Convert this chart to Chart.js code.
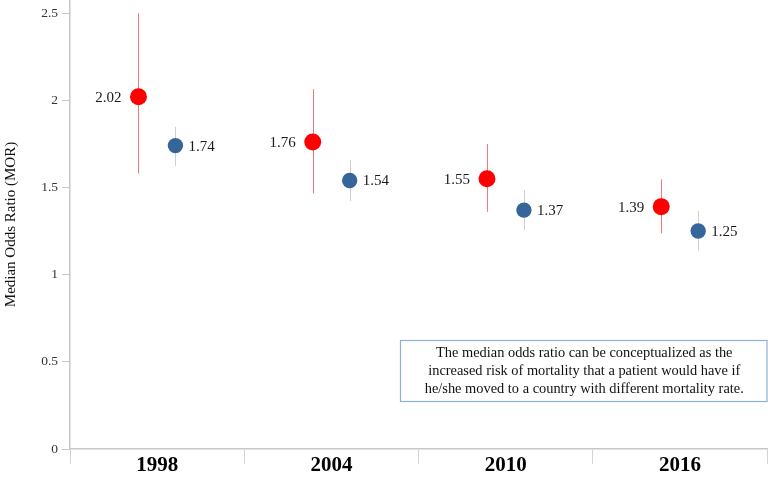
<!DOCTYPE html>
<html>
<head>
<meta charset="utf-8">
<script src="https://cdn.jsdelivr.net/npm/chart.js@4.4.1/dist/chart.umd.min.js"></script>
<style>
html,body{margin:0;padding:0;background:#fff;}
#wrap{width:768px;height:483px;position:relative;}
</style>
</head>
<body>
<div id="wrap"><canvas id="c" width="768" height="483"></canvas></div>
<script>
const categories = ['1998', '2004', '2010', '2016'];
const redValues = [2.02, 1.76, 1.55, 1.39];
const redLow = [1.58, 1.465, 1.36, 1.237];
const redHigh = [2.5, 2.064, 1.749, 1.546];
const blueValues = [1.74, 1.54, 1.37, 1.25];
const blueLow = [1.624, 1.422, 1.256, 1.137];
const blueHigh = [1.848, 1.657, 1.485, 1.366];
const yTicks = [0, 0.5, 1, 1.5, 2, 2.5];
const noteLines = [
  'The median odds ratio can be conceptualized as the',
  'increased risk of mortality that a patient would have if',
  'he/she moved to a country with different mortality rate.'
];

const RED_OFF = 0.393, BLUE_OFF = 0.605;
const SERIF = '"Liberation Serif", "Times New Roman", serif';

const redData = redValues.map((v, i) => ({x: i + RED_OFF, y: v, lo: redLow[i], hi: redHigh[i]}));
const blueData = blueValues.map((v, i) => ({x: i + BLUE_OFF, y: v, lo: blueLow[i], hi: blueHigh[i]}));

const errorBars = {
  id: 'errorBars',
  beforeDatasetsDraw(chart) {
    const ctx = chart.ctx, xs = chart.scales.x, ys = chart.scales.y;
    const colors = ['#f07a7a', '#cfcfcf'];
    chart.data.datasets.forEach((ds, di) => {
      ctx.save();
      ctx.strokeStyle = colors[di];
      ctx.lineWidth = 1;
      ds.data.forEach(p => {
        const x = Math.round(xs.getPixelForValue(p.x)) + 0.5;
        ctx.beginPath();
        ctx.moveTo(x, ys.getPixelForValue(p.hi));
        ctx.lineTo(x, ys.getPixelForValue(p.lo));
        ctx.stroke();
      });
      ctx.restore();
    });
  },
  afterDatasetsDraw(chart) {
    const ctx = chart.ctx, xs = chart.scales.x, ys = chart.scales.y;
    ctx.save();
    ctx.font = '15px ' + SERIF;
    ctx.fillStyle = '#1a1a1a';
    ctx.textBaseline = 'middle';
    chart.data.datasets.forEach((ds, di) => {
      ds.data.forEach(p => {
        const x = xs.getPixelForValue(p.x), y = ys.getPixelForValue(p.y);
        const t = p.y.toFixed(2);
        if (di === 0) { ctx.textAlign = 'right'; ctx.fillText(t, x - 17, y + 1); }
        else { ctx.textAlign = 'left'; ctx.fillText(t, x + 13, y + 1); }
      });
    });
    // category labels
    ctx.font = 'bold 21px ' + SERIF;
    ctx.fillStyle = '#000';
    ctx.textAlign = 'center';
    ctx.textBaseline = 'middle';
    categories.forEach((c, i) => {
      ctx.fillText(c, xs.getPixelForValue(i + 0.5), ys.bottom + 17);
    });
    // note box
    const bx = 400, by = 340.5, bw = 366.5, bh = 61;
    ctx.strokeStyle = '#8eafd9';
    ctx.lineWidth = 1.2;
    ctx.fillStyle = '#fff';
    ctx.fillRect(bx, by, bw, bh);
    ctx.strokeRect(bx + 0.5, by, bw, bh);
    ctx.fillStyle = '#111';
    ctx.font = '14.4px ' + SERIF;
    noteLines.forEach((l, i) => ctx.fillText(l, bx + bw / 2 + 1, by + 13 + i * 17.8));
    ctx.restore();
  }
};

new Chart(document.getElementById('c'), {
  type: 'scatter',
  data: {
    datasets: [
      {data: redData, backgroundColor: '#ff0000', borderColor: '#ff0000', pointRadius: 8.5, pointHoverRadius: 8.5, borderWidth: 0, clip: false},
      {data: blueData, backgroundColor: '#36659a', borderColor: '#36659a', pointRadius: 7.7, pointHoverRadius: 7.7, borderWidth: 0, clip: false}
    ]
  },
  options: {
    responsive: false,
    animation: false,
    events: [],
    layout: {autoPadding: false, padding: {left: 0, right: 1, top: 0, bottom: 19}},
    plugins: {legend: {display: false}, tooltip: {enabled: false}},
    scales: {
      x: {
        type: 'linear', min: 0, max: 4,
        afterFit(s) { s.paddingLeft = 0; s.paddingRight = 0; },
        ticks: {display: false, stepSize: 1},
        grid: {display: true, drawOnChartArea: false, drawTicks: true, tickLength: 15, color: '#d4d4d4', lineWidth: 1},
        border: {display: true, color: '#c8c8c8', width: 1.5}
      },
      y: {
        type: 'linear', min: 0, max: 2.575,
        afterBuildTicks(s) { s.ticks = yTicks.map(v => ({value: v})); },
        afterFit(s) { s.width = 70; s.paddingTop = 0; s.paddingBottom = 0; },
        ticks: {font: {family: SERIF, size: 13.5}, color: '#333', padding: 4, callback: v => String(v)},
        grid: {display: true, drawOnChartArea: false, drawTicks: true, tickLength: 8, color: '#c8c8c8'},
        border: {display: true, color: '#c8c8c8', width: 1.5},
        title: {display: true, text: 'Median Odds Ratio (MOR)', font: {family: SERIF, size: 15}, color: '#111', padding: {top: 2, bottom: 0}}
      }
    }
  },
  plugins: [errorBars]
});
</script>
</body>
</html>
